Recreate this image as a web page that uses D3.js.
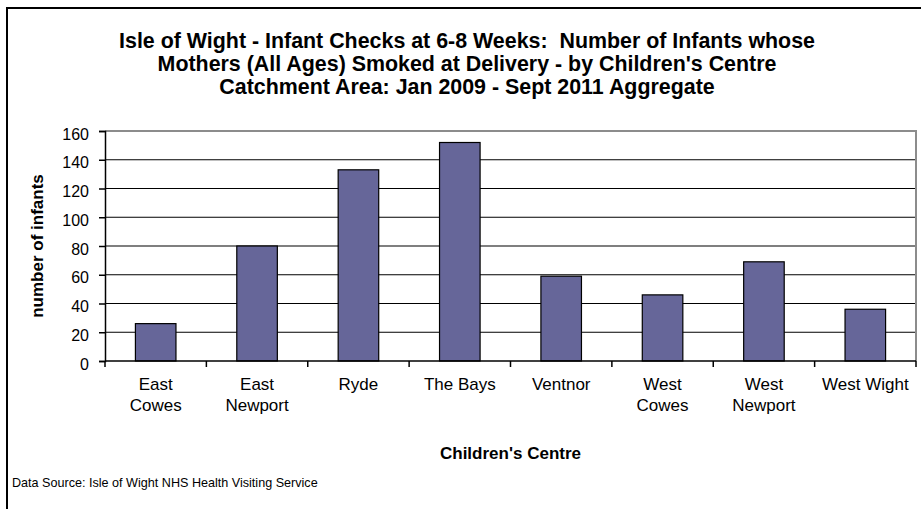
<!DOCTYPE html>
<html lang="en">
<head>
  <meta charset="UTF-8">
  <title>Isle of Wight - Infant Checks at 6-8 Weeks</title>
  <script src="https://d3js.org/d3.v7.min.js"></script>
  <style>
    body { margin: 0; background: white; }
    text { font-family: 'Liberation Sans', Arial, sans-serif; fill: black; }
    .tick text { font-size: 16px; }
    .domain { stroke: black; stroke-width: 1.5px; }
    .tick line { stroke: black; stroke-width: 1.5px; }
  </style>
</head>
<body>
  <svg width="921" height="509"></svg>

  <script>
    // The data
    const centres = ["East Cowes", "East Newport", "Ryde", "The Bays", "Ventnor",
                     "West Cowes", "West Newport", "West Wight"];
    const centreLines = [["East", "Cowes"], ["East", "Newport"], ["Ryde"], ["The Bays"], ["Ventnor"],
                         ["West", "Cowes"], ["West", "Newport"], ["West Wight"]];
    const infants = [26, 80, 133, 152, 59, 46, 69, 36];
    const yTicks = [0, 20, 40, 60, 80, 100, 120, 140, 160];

    const titleLines = [
      "Isle of Wight - Infant Checks at 6-8 Weeks:  Number of Infants whose",
      "Mothers (All Ages) Smoked at Delivery - by Children's Centre",
      "Catchment Area: Jan 2009 - Sept 2011 Aggregate"
    ];

    const svg = d3.select("svg");

    // outer chart border (cropped on right and bottom)
    svg.append("rect")
      .attr("x", 7).attr("y", 8)
      .attr("width", 940).attr("height", 520)
      .attr("fill", "white")
      .attr("stroke", "black")
      .attr("stroke-width", 2);

    const margin = { top: 131, right: 5, bottom: 148, left: 105 };
    const width = 921 - margin.left - margin.right;
    const height = 509 - margin.top - margin.bottom;
    const g = svg.append("g").attr("transform", "translate(" + margin.left + "," + margin.top + ")");

    // Scales
    const x = d3.scaleBand()
      .range([0, width])
      .domain(centres)
      .paddingInner(0.6)
      .paddingOuter(0.3);

    const y = d3.scaleLinear()
      .range([height, 0])
      .domain([0, 160]);

    // gridlines
    g.selectAll(".grid")
      .data(yTicks.filter(d => d > 0 && d < 160))
      .enter().append("line")
      .attr("x1", 0).attr("x2", width)
      .attr("y1", d => y(d)).attr("y2", d => y(d))
      .attr("stroke", "black")
      .attr("stroke-width", 1.2);

    // plot area top/right border (gray)
    g.append("path")
      .attr("d", "M0," + y(160) + "H" + width + "V" + height)
      .attr("fill", "none")
      .attr("stroke", "#8c8c8c")
      .attr("stroke-width", 2);

    // Bars
    g.selectAll(".bar")
      .data(infants)
      .enter().append("rect")
      .attr("class", "bar")
      .attr("x", (d, i) => x(centres[i]))
      .attr("y", d => y(d))
      .attr("width", x.bandwidth())
      .attr("height", d => height - y(d))
      .attr("fill", "#666699")
      .attr("stroke", "black")
      .attr("stroke-width", 1.2);

    // Y-axis
    g.append("g")
      .call(d3.axisLeft(y).tickValues(yTicks).tickSize(6).tickPadding(10))
      .call(a => a.selectAll(".tick text").attr("dy", "0.5em"));

    // X-axis: ticks between categories
    const step = x.step();
    const x0 = x(centres[0]) - x.paddingOuter() * step;
    const boundaries = d3.range(centres.length + 1).map(i => x0 + i * step);
    const xAxis = g.append("g").attr("transform", "translate(0," + height + ")");
    xAxis.append("line")
      .attr("x1", 0).attr("x2", width)
      .attr("stroke", "black").attr("stroke-width", 1.5);
    xAxis.selectAll(".xtick")
      .data(boundaries)
      .enter().append("line")
      .attr("x1", d => d).attr("x2", d => d)
      .attr("y1", 0).attr("y2", 6)
      .attr("stroke", "black").attr("stroke-width", 1.5);

    const labels = xAxis.selectAll(".xlabel")
      .data(centreLines)
      .enter().append("text")
      .attr("text-anchor", "middle")
      .style("font-size", "17px")
      .attr("transform", (d, i) => "translate(" + (x(centres[i]) + x.bandwidth() / 2) + ",29)");
    labels.selectAll("tspan")
      .data(d => d)
      .enter().append("tspan")
      .attr("x", 0)
      .attr("y", (d, i) => i * 20.5)
      .text(d => d);

    // Axis titles
    svg.append("text")
      .attr("transform", "translate(43," + (margin.top + height / 2) + ") rotate(-90)")
      .attr("text-anchor", "middle")
      .style("font-size", "17px")
      .style("font-weight", "bold")
      .text("number of infants");

    svg.append("text")
      .attr("x", margin.left + width / 2)
      .attr("y", 459)
      .attr("text-anchor", "middle")
      .style("font-size", "17px")
      .style("font-weight", "bold")
      .text("Children's Centre");

    // Title
    svg.selectAll(".title")
      .data(titleLines)
      .enter().append("text")
      .attr("x", 467)
      .attr("y", (d, i) => 48 + i * 23)
      .attr("text-anchor", "middle")
      .style("white-space", "pre")
      .style("font-size", "21.4px")
      .style("font-weight", "bold")
      .text(d => d);

    // Source note
    svg.append("text")
      .attr("x", 12)
      .attr("y", 487)
      .style("font-size", "12.6px")
      .text("Data Source: Isle of Wight NHS Health Visiting Service");
  </script>
</body>
</html>
